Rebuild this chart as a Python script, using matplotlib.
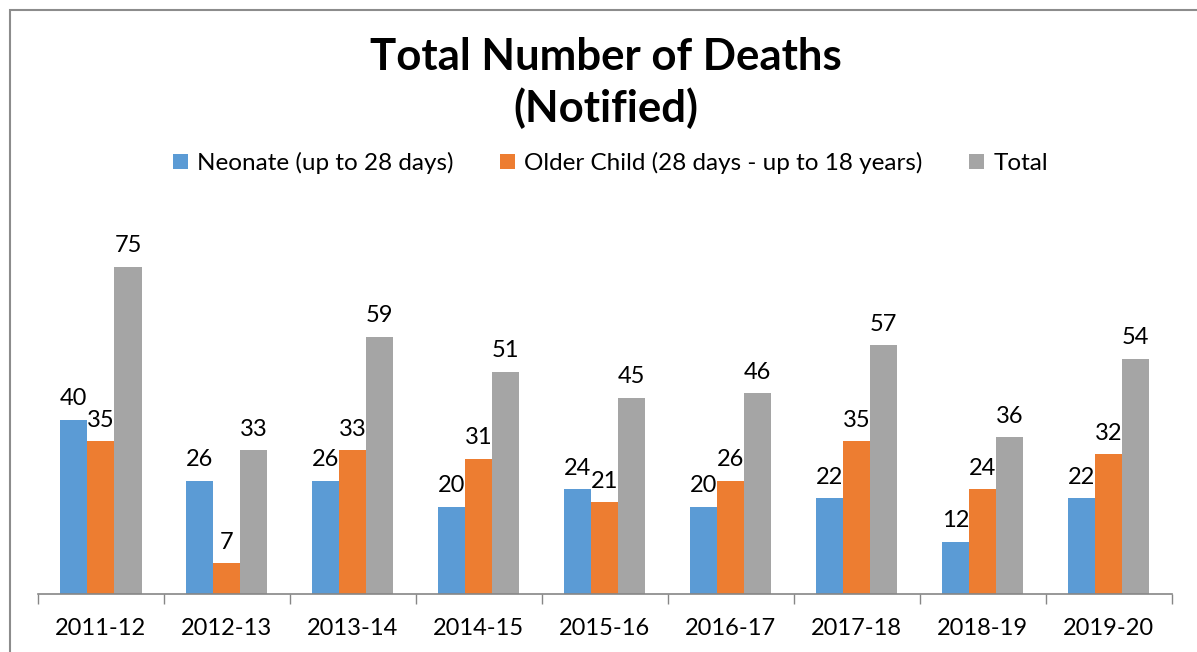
import matplotlib.pyplot as plt
import numpy as np
from matplotlib.patches import Rectangle

years = ["2011-12", "2012-13", "2013-14", "2014-15", "2015-16",
         "2016-17", "2017-18", "2018-19", "2019-20"]
neonate = [40, 26, 26, 20, 24, 20, 22, 12, 22]
older_child = [35, 7, 33, 31, 21, 26, 35, 24, 32]
total = [75, 33, 59, 51, 45, 46, 57, 36, 54]

plt.rcParams['font.family'] = ['Lato', 'DejaVu Sans']

fig = plt.figure(figsize=(11.97, 6.52), dpi=100)
ax = fig.add_axes([0.0317, 0.089, 0.947, 0.535])

x = np.arange(len(years))
w = 0.215
series = [
    (neonate, "Neonate (up to 28 days)", "#5b9bd5"),
    (older_child, "Older Child (28 days - up to 18 years)", "#ed7d31"),
    (total, "Total", "#a5a5a5"),
]
for i, (vals, label, color) in enumerate(series):
    pos = x + (i - 1) * w
    ax.bar(pos, vals, width=w, color=color, label=label)
    for p, v in zip(pos, vals):
        ax.text(p, v + 2.4, str(v), ha="center", va="bottom", fontsize=17)

ax.set_xlim(-0.5, len(years) - 0.5)
ax.set_ylim(0, 80)
ax.set_xticks(x)
ax.set_xticklabels(years, fontsize=17)
ax.set_xticks(np.arange(-0.5, len(years)), minor=True)
ax.tick_params(axis="x", which="major", length=0, pad=17)
ax.tick_params(axis="x", which="minor", length=7, color="#868686", width=1)
ax.set_yticks([])
for s in ["top", "right", "left"]:
    ax.spines[s].set_visible(False)
ax.spines["bottom"].set_color("#868686")
ax.spines["bottom"].set_linewidth(1.2)

fig.text(0.506, 0.872, "Total Number of Deaths\n(Notified)", ha="center",
         va="center", fontsize=31.5, fontweight="bold", linespacing=1.3)

fig.legend(loc="center", bbox_to_anchor=(0.51, 0.75), ncol=3, frameon=False,
           fontsize=17.5, handlelength=0.6, handleheight=0.6, handletextpad=0.4,
           columnspacing=1.9)

fig.patches.append(Rectangle((10 / 1197, -0.1), 1.5, 1.1 - 10 / 652,
                             transform=fig.transFigure, fill=False,
                             edgecolor="#8c8c8c", linewidth=1.5))

fig.savefig("out.png", dpi=100)
